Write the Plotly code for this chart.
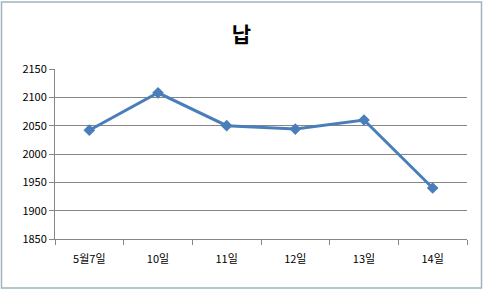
import plotly.graph_objects as go

categories = ["5월7일", "10일", "11일", "12일", "13일", "14일"]
values = [2042, 2108, 2050, 2044, 2060, 1940]
y_ticks = [1850, 1900, 1950, 2000, 2050, 2100, 2150]

W, H = 483, 290
L, R, T, B = 55, 16, 69, 51
pw, ph = W - L - R, H - T - B

fig = go.Figure(go.Scatter(
    x=categories, y=values, mode="lines+markers",
    line=dict(color="#4a7ebb", width=3),
    marker=dict(symbol="diamond", size=9, color="#4a7ebb"),
))

def px(x):
    return (x - L) / pw

def py(y):
    return 1 - (y - T) / ph

fig.add_shape(type="rect", xref="paper", yref="paper",
              x0=px(1.5), x1=px(W - 1.5), y0=py(H - 2), y1=py(2),
              line=dict(color="#9fb4bd", width=1.5), layer="below")

fig.update_layout(
    width=W, height=H,
    margin=dict(l=L, r=R, t=T, b=B),
    paper_bgcolor="white", plot_bgcolor="white",
    showlegend=False,
    title=dict(text="<b>납</b>", x=0.5, xanchor="center", y=1 - 35 / H, yanchor="middle",
               font=dict(size=21, color="black", family="Noto Sans CJK KR")),
    font=dict(family="Noto Sans CJK KR", size=11, color="black"),
    xaxis=dict(type="category", range=[-0.5, len(categories) - 0.5],
               showgrid=False, showline=True, linecolor="#868686",
               linewidth=1, ticks="outside", tickson="boundaries", ticklen=5,
               tickcolor="#868686", tickfont=dict(size=11), ticklabelstandoff=10),
    yaxis=dict(range=[1850, 2150], tickvals=y_ticks, showgrid=True, gridcolor="#868686",
               gridwidth=1, showline=True, linecolor="#868686", ticks="outside",
               ticklen=5, tickcolor="#868686", zeroline=False, tickfont=dict(size=11)),
)

fig.write_html("out.html")
